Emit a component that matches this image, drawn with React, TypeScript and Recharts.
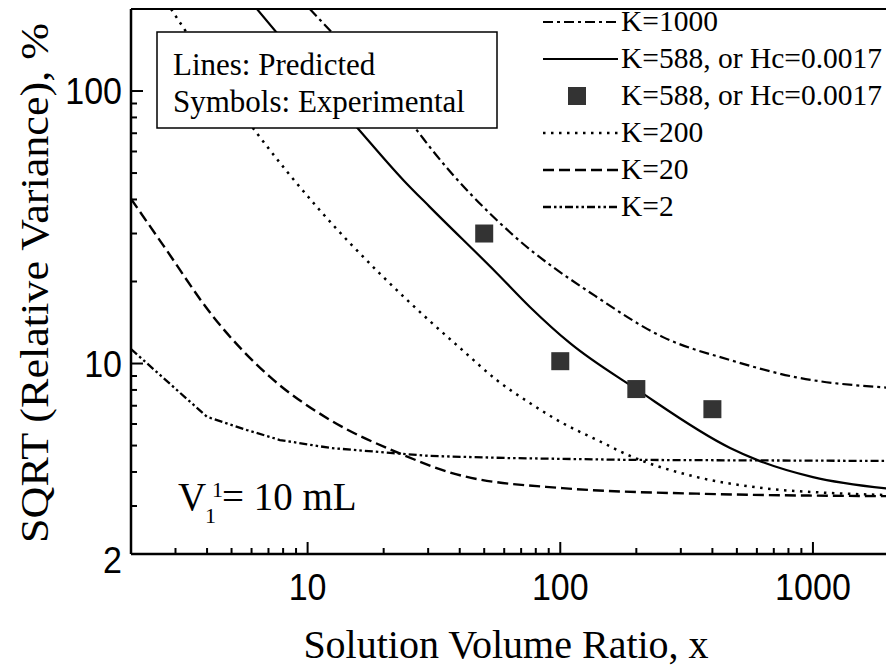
import { ComposedChart, Line, Scatter, XAxis, YAxis, ReferenceLine, Legend } from 'recharts'

const SERIF = '"Liberation Serif", "Times New Roman", serif'
const SANS = '"Liberation Sans", Arial, sans-serif'

// tick values
const xMajor = [10, 100, 1000]
const xMinor = [3, 4, 5, 6, 7, 8, 9, 20, 30, 40, 50, 60, 70, 80, 90, 200, 300, 400, 500, 600, 700, 800, 900]
const yMajor = [2, 10, 100]
const yMinor = [3, 4, 5, 6, 7, 8, 9, 20, 30, 40, 50, 60, 70, 80, 90]

// predicted curves, [x, sqrt(rel. variance) %]
const curveK1000 = [[10.2, 200], [27, 72], [31, 61], [64, 30], [140, 17.5], [255, 12.5], [470, 10.3], [860, 8.9], [2000, 8.15]]
const curveK588 = [[6.3, 200], [16, 72], [24, 47], [30.5, 37.5], [56, 21.5], [76, 16.1], [109, 11.9], [200, 8.05], [470, 4.9], [600, 4.43], [1000, 3.83], [2000, 3.47]]
const curveK200 = [[2.88, 200], [6.3, 70], [10.9, 37.5], [19.9, 20.8], [30.5, 14.3], [41, 11.2], [56, 8.7], [76, 7.15], [102, 6.05], [140, 5.24], [189, 4.58], [348, 3.83], [634, 3.49], [1170, 3.35], [2000, 3.29]]
const curveK20 = [[2, 40.2], [2.68, 27.2], [4.22, 14.9], [7.1, 8.93], [12.3, 6.2], [22.4, 4.74], [41, 3.87], [102, 3.49], [348, 3.33], [2000, 3.26]]
const curveK2 = [[2, 11.3], [4, 6.37], [5.76, 5.7], [7.77, 5.24], [12.3, 4.9], [21.2, 4.7], [30.5, 4.58], [61.5, 4.5], [189, 4.43], [2000, 4.39]]

// experimental points
const expK588 = [[50, 30], [100, 10.2], [200, 8.06], [400, 6.8]]

const toPts = (a: number[][]) => a.map(([x, y]) => ({ x, y }))

const series = [
  { key: 'k1000', label: 'K=1000', data: curveK1000, dash: '10 4 3 4', width: 2.2, type: 'monotone' },
  { key: 'k588', label: 'K=588, or Hc=0.0017', data: curveK588, dash: undefined, width: 2.2, type: 'monotone' },
  { key: 'k200', label: 'K=200', data: curveK200, dash: '2.5 5.5', width: 2.5, type: 'monotone' },
  { key: 'k20', label: 'K=20', data: curveK20, dash: '11 5', width: 2.4, type: 'monotone' },
  { key: 'k2', label: 'K=2', data: curveK2, dash: '8 3 2.5 3 2.5 3', width: 2.3, type: 'linear' },
]

// eslint-disable-next-line @typescript-eslint/no-explicit-any
function XTick(props: any) {
  const { x, y, payload } = props
  const major = xMajor.includes(payload.value)
  return (
    <g>
      <line x1={x} x2={x} y1={y} y2={y - (major ? 12 : 6)} stroke="#000" strokeWidth={2} />
      {major && (
        <text transform={`translate(${x},${y + 46}) scale(0.92,1)`} textAnchor="middle" fontFamily={SANS} fontSize={37} fill="#000">
          {payload.value}
        </text>
      )}
    </g>
  )
}

// eslint-disable-next-line @typescript-eslint/no-explicit-any
function YTick(props: any) {
  const { x, y, payload } = props
  const major = yMajor.includes(payload.value)
  const dy = payload.value === 2 ? 19 : 13
  return (
    <g>
      <line x1={x} x2={x + (major ? 12 : 6)} y1={y} y2={y} stroke="#000" strokeWidth={2} />
      {major && (
        <text transform={`translate(${x - 9},${y + dy}) scale(0.92,1)`} textAnchor="end" fontFamily={SANS} fontSize={37} fill="#000">
          {payload.value}
        </text>
      )}
    </g>
  )
}

// eslint-disable-next-line @typescript-eslint/no-explicit-any
const Square = (p: any) => <rect x={p.cx - 9} y={p.cy - 9} width={18} height={18} fill="#333" />

function LegendBox() {
  const rows = [
    { kind: 'line', s: series[0] },
    { kind: 'line', s: series[1] },
    { kind: 'square', s: series[1] },
    { kind: 'line', s: series[2] },
    { kind: 'line', s: series[3] },
    { kind: 'line', s: series[4] },
  ]
  return (
    <svg width={346} height={230} style={{ display: 'block' }}>
      {rows.map((r, i) => {
        const cy = 22 + i * 37
        return (
          <g key={i}>
            {r.kind === 'line' ? (
              <line x1={3} x2={78} y1={cy} y2={cy} stroke="#000" strokeWidth={r.s.width} strokeDasharray={r.s.dash} />
            ) : (
              <rect x={28} y={cy - 9} width={18} height={18} fill="#333" />
            )}
            <text x={81} y={cy + 9} fontFamily={SERIF} fontSize={29.5} fill="#000">{r.s.label}</text>
          </g>
        )
      })}
    </svg>
  )
}

export default function App() {
  return (
    <div style={{ position: 'absolute', left: 0, top: 0, width: 886, height: 668, overflow: 'hidden', background: '#fff' }}>
      <ComposedChart width={900} height={668} margin={{ top: 9, right: 11, bottom: 0, left: 0 }}>
        <XAxis
          dataKey="x" type="number" scale="log" domain={[2, 2000]} allowDataOverflow
          ticks={[...xMajor, ...xMinor]} interval={0} tick={XTick} tickLine={false} tickSize={0} tickMargin={0}
          height={114} axisLine={{ stroke: '#000', strokeWidth: 2.5 }}
          // eslint-disable-next-line @typescript-eslint/no-explicit-any
          label={(p: any) => (
            <text x={p.viewBox.x + p.viewBox.width / 2 - 4} y={p.viewBox.y + 104} textAnchor="middle" fontFamily={SERIF} fontSize={40} fill="#000">
              Solution Volume Ratio, x
            </text>
          )}
        />
        <YAxis
          dataKey="y" type="number" scale="log" domain={[2, 200]} allowDataOverflow
          ticks={[...yMajor, ...yMinor]} interval={0} tick={YTick} tickLine={false} tickSize={0} tickMargin={0}
          width={131} axisLine={{ stroke: '#000', strokeWidth: 2.5 }}
          // eslint-disable-next-line @typescript-eslint/no-explicit-any
          label={(p: any) => {
            const cy = p.viewBox.y + 274
            return (
              <text transform={`translate(48,${cy}) rotate(-90)`} textAnchor="middle" fontFamily={SERIF} fontSize={40} textLength={520} lengthAdjust="spacingAndGlyphs" fill="#000">
                SQRT (Relative Variance), %
              </text>
            )
          }}
        />
        <ReferenceLine y={200} stroke="#000" strokeWidth={2} />
        {series.map((s) => (
          <Line
            key={s.key} data={toPts(s.data)} dataKey="y" name={s.label}
            type={s.type as 'monotone' | 'linear'} stroke="#000" strokeWidth={s.width} strokeDasharray={s.dash}
            dot={false} activeDot={false} isAnimationActive={false}
          />
        ))}
        <Scatter data={toPts(expK588)} dataKey="y" name="exp" shape={Square} isAnimationActive={false} />
        <Legend
          layout="vertical" verticalAlign="middle" align="center"
          content={<LegendBox />}
          wrapperStyle={{ position: 'absolute', left: 540, top: 0, width: 346, height: 230 }}
        />
      </ComposedChart>
      <svg width={886} height={668} style={{ position: 'absolute', left: 0, top: 0, pointerEvents: 'none' }}>
        <rect x={157} y={32} width={340} height={96} fill="#fff" stroke="#000" strokeWidth={1.5} />
        <text x={173} y={75} fontFamily={SERIF} fontSize={31} fill="#000">Lines: Predicted</text>
        <text x={173} y={112} fontFamily={SERIF} fontSize={31} fill="#000">Symbols: Experimental</text>
        <text x={178} y={510} fontFamily={SERIF} fontSize={39} fill="#000">
          V
          <tspan x={205} y={523} fontSize={22}>1</tspan>
          <tspan x={212} y={497} fontSize={22}>1</tspan>
          <tspan x={222} y={510} fontSize={39}>= 10 mL</tspan>
        </text>
      </svg>
    </div>
  )
}
